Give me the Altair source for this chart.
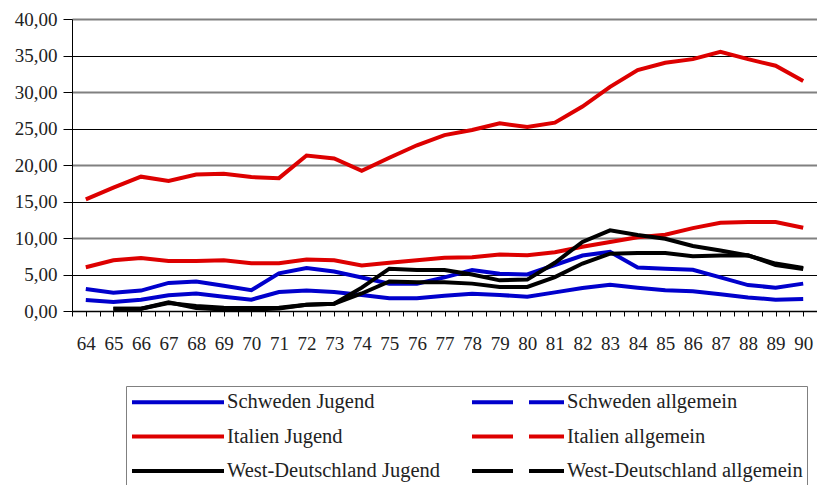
import altair as alt
import pandas as pd

# Jahre 1964-1990 (zweistellig beschriftet)
years = list(range(64, 91))

# Arbeitslosenquoten in Prozent
schweden_jugend = [3.0, 2.5, 2.8, 3.85, 4.05, 3.45, 2.85, 5.15, 5.9, 5.4, 4.6, 3.75, 3.75,
                   4.6, 5.6, 5.1, 5.0, 6.3, 7.6, 8.1, 5.95, 5.8, 5.65, 4.6, 3.55, 3.2, 3.75]
schweden_allgemein = [1.5, 1.25, 1.55, 2.15, 2.4, 1.95, 1.55, 2.6, 2.8, 2.6, 2.2, 1.75, 1.75,
                      2.1, 2.35, 2.2, 1.95, 2.55, 3.15, 3.6, 3.2, 2.85, 2.7, 2.3, 1.85, 1.55, 1.65]
italien_jugend = [15.3, 16.9, 18.4, 17.8, 18.7, 18.8, 18.35, 18.2, 21.3, 20.9, 19.2, 21.0, 22.7,
                  24.1, 24.8, 25.7, 25.2, 25.8, 28.0, 30.7, 33.0, 34.0, 34.5, 35.5, 34.5, 33.6, 31.5]
italien_allgemein = [6.0, 6.95, 7.25, 6.85, 6.85, 6.95, 6.55, 6.55, 7.05, 6.95, 6.25, 6.6, 6.95,
                     7.3, 7.35, 7.75, 7.65, 8.05, 8.8, 9.45, 10.1, 10.45, 11.35, 12.1, 12.2, 12.2, 11.4]
wd_jugend = [None, 0.3, 0.3, 1.2, 0.4, 0.2, 0.2, 0.35, 0.85, 1.0, 3.2, 5.8, 5.6,
             5.6, 5.0, 4.2, 4.3, 6.6, 9.45, 11.05, 10.4, 9.9, 8.9, 8.3, 7.6, 6.5, 5.9]
wd_allgemein = [None, 0.3, 0.3, 1.1, 0.7, 0.45, 0.4, 0.45, 0.85, 1.0, 2.4, 4.05, 3.95,
                3.95, 3.75, 3.3, 3.3, 4.65, 6.5, 7.85, 7.95, 7.95, 7.5, 7.6, 7.65, 6.3, 5.75]

series_names = ["Schweden Jugend", "Schweden allgemein",
                "Italien Jugend", "Italien allgemein",
                "West-Deutschland Jugend", "West-Deutschland allgemein"]
series_values = [schweden_jugend, schweden_allgemein, italien_jugend,
                 italien_allgemein, wd_jugend, wd_allgemein]
series_colors = ["#0000CC", "#0000CC", "#DD0000", "#DD0000", "#000000", "#000000"]
series_dashes = [[1, 0], [41, 16], [1, 0], [41, 16], [1, 0], [41, 16]]

y_ticks = [0, 5, 10, 15, 20, 25, 30, 35, 40]

rows = []
for name, values in zip(series_names, series_values):
    for year, v in zip(years, values):
        if v is not None:
            rows.append({"series": name, "year": year, "value": v})
df = pd.DataFrame(rows)

# the legend grid fills column by column: Jugend entries left, allgemein entries right
legend_order = series_names[0::2] + series_names[1::2]
color_of = dict(zip(series_names, series_colors))
dash_of = dict(zip(series_names, series_dashes))

# category-style ticks: one at every year and one halfway between years
x_ticks = [years[0] - 0.5 + 0.5 * i for i in range(2 * len(years) + 1)]

FONT = "Liberation Serif, Times New Roman, Times, serif"
TEXT = "#222222"

# legend key: a 92 px wide stroke drawn from a 20 px symbol slot
legend = alt.Legend(
    title=None, orient="none", legendX=54, legendY=367, columns=2, gridAlign="each",
    symbolType="M-4.6,0H4.6", symbolSize=400, symbolOffset=36, symbolStrokeWidth=4,
    labelFont=FONT, labelFontSize=20.5, labelColor=TEXT, labelOffset=37, labelLimit=400,
    rowPadding=11.5, columnPadding=24, padding=4, strokeColor="#808080",
)

color = alt.Color("series:N", sort=legend_order,
                  scale=alt.Scale(domain=legend_order,
                                  range=[color_of[s] for s in legend_order]),
                  legend=legend)

x = alt.X("year:Q", title=None,
          scale=alt.Scale(domain=[x_ticks[0], x_ticks[-1]], nice=False, zero=False),
          axis=alt.Axis(values=x_ticks, grid=False,
                        labelExpr="datum.value % 1 == 0 ? format(datum.value, 'd') : ''",
                        labelOverlap=False, labelFlush=False,
                        labelFont=FONT, labelFontSize=19, labelColor=TEXT, labelPadding=18,
                        tickSize=5, tickColor="#000000", domainColor="#000000", domainWidth=1))

y = alt.Y("value:Q", title=None,
          scale=alt.Scale(domain=[0, 40], nice=False),
          axis=alt.Axis(values=y_ticks,
                        labelExpr="replace(format(datum.value, '.2f'), '.', ',')",
                        labelFont=FONT, labelFontSize=19, labelColor=TEXT, labelPadding=6,
                        tickSize=9, tickColor="#000000", domainColor="#000000", domainWidth=1,
                        gridColor={"condition": {"test": "datum.value % 10 == 0", "value": "#808080"},
                                   "value": "#000000"},
                        gridWidth={"condition": {"test": "datum.value % 10 == 0", "value": 2},
                                   "value": 1},
                        gridOpacity=1))

lines = alt.Chart(df).mark_line(strokeWidth=4).encode(x=x, y=y, color=color)

# one point per series: draws nothing, but supplies the dash pattern for the legend keys
keys = (
    alt.Chart(df)
    .transform_window(rank="row_number()", groupby=["series"])
    .transform_filter("datum.rank == 1")
    .mark_line(strokeWidth=4)
    .encode(x=x, y=y, color=color,
            strokeDash=alt.StrokeDash("series:N", sort=legend_order,
                                      scale=alt.Scale(domain=legend_order,
                                                      range=[dash_of[s] for s in legend_order]),
                                      legend=legend))
)

chart = (
    alt.layer(lines, keys)
    .properties(width=745, height=292,
                autosize=alt.AutoSizeParams(type="none"),
                padding={"left": 72, "top": 19, "right": 0, "bottom": 174})
    .configure_view(strokeWidth=0)
    .configure(background="white")
)

chart.save("out.html", embed_options={"renderer": "svg", "actions": False})
